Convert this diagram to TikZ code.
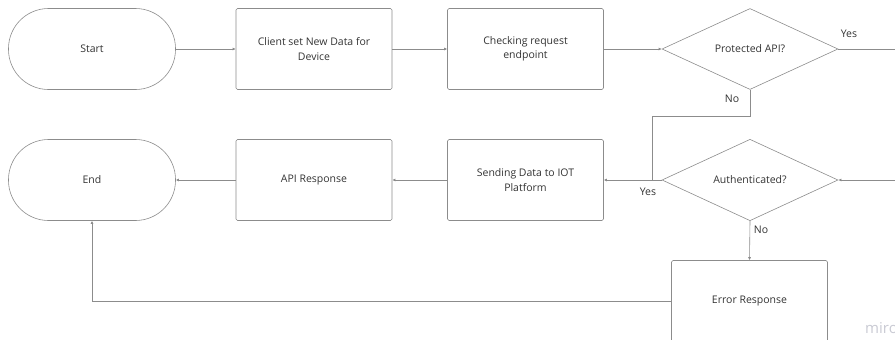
\documentclass[tikz,border=0pt]{standalone}
\usepackage{fontspec}
\setmainfont{Open Sans}
\usetikzlibrary{arrows.meta,shapes.geometric}

\definecolor{linegray}{HTML}{8C8C8C}
\definecolor{txtgray}{HTML}{333333}
\definecolor{markgray}{HTML}{C9CAD3}

\tikzset{
  base/.style={draw=linegray, line width=0.6pt, text=txtgray, font=\fontsize{10.5}{14.5}\selectfont},
  box/.style={base, rectangle, rounded corners=1.5pt, minimum width=156pt, minimum height=81pt, align=center},
  term/.style={base, rectangle, rounded corners=40pt, minimum width=167pt, minimum height=81pt},
  decision/.style={base, diamond, inner sep=0pt, minimum width=176pt, minimum height=81pt},
  line/.style={draw=linegray, line width=0.6pt},
  flow/.style={line, -{Latex[length=3pt,width=3pt]}},
  lbl/.style={text=txtgray, font=\fontsize{10.5}{13}\selectfont}
}

\begin{document}
\begin{tikzpicture}[x=1pt,y=-1pt]
      \useasboundingbox (0,0) rectangle (895,340);
      % top row
      \node[term] (start) at (92,49) {Start};
      \node[box] (client) at (314,49) {Client set New Data for\\Device};
      \node[box] (check) at (525.5,49) {Checking request\\endpoint};
      \node[decision] (protect) at (750,49) {Protected API?};
      % bottom row
      \node[term] (finish) at (92,180) {End};
      \node[box] (api) at (314,180) {API Response};
      \node[box] (send) at (525.5,180) {Sending Data to IOT\\Platform};
      \node[decision] (auth) at (750,180) {Authenticated?};
      \node[box] (err) at (749.5,301) {Error Response};
      \coordinate (out) at (895,49);
      \coordinate (in) at (895,180);
      \coordinate (join) at (652,180);
      \draw[flow] (start) -- (client);
      \draw[flow] (client) -- (check);
      \draw[flow] (check) -- (protect);
      \draw[line] (protect.east) -- (out);
      \node[lbl] at (849,34) {Yes};
      \draw[line] (protect.south) -- ++(0,26) -| (join);
      \node[lbl] at (732,99) {No};
      \draw[flow] (in) -- (auth.east);
      \draw[flow] (auth.west) -- (send.east);
      \node[lbl] at (648,192) {Yes};
      \draw[flow] (auth.south) -- (err.north);
      \node[lbl] at (761,230) {No};
      \draw[flow] (send) -- (api);
      \draw[flow] (api) -- (finish);
      \draw[flow] (err.west) -| (finish.south);
      \node[anchor=base west, inner sep=0pt, text=markgray, font=\fontsize{15}{17}\selectfont] (mark) at (865,333) {miro};
    \end{tikzpicture}
\end{document}
